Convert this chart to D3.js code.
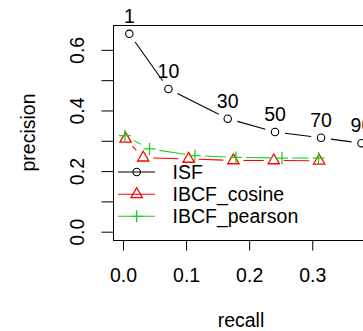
<!DOCTYPE html>
<html>
<head>
<meta charset="utf-8">
<script src="https://cdn.jsdelivr.net/npm/d3@7"></script>
<style>
  body { margin: 0; background: #fff; }
  text { font-family: "Liberation Sans", Arial, sans-serif; fill: #000; }
</style>
</head>
<body>
<div id="chart"></div>
<script>
// values
var seriesNames = ["ISF", "IBCF_cosine", "IBCF_pearson"];
var seriesColors = ["#000000", "#ff0000", "#22cc22"];
var seriesShapes = ["circle", "triangle", "plus"];

var isfRecall = [0.010, 0.072, 0.166, 0.241, 0.314, 0.378];
var isfPrecision = [0.653, 0.471, 0.373, 0.329, 0.310, 0.292];
var isfLabels = ["1", "10", "30", "50", "70", "90"];

var cosineRecall = [0.004, 0.032, 0.104, 0.175, 0.239, 0.311];
var cosinePrecision = [0.306, 0.244, 0.240, 0.235, 0.235, 0.234];

var pearsonRecall = [0.003, 0.042, 0.114, 0.179, 0.252, 0.310];
var pearsonPrecision = [0.317, 0.273, 0.251, 0.245, 0.243, 0.243];

var xTicks = [0, 0.1, 0.2, 0.3];
var yTicks = [0, 0.1, 0.2, 0.3, 0.4, 0.5, 0.6];
var yLabelTicks = [0, 0.2, 0.4, 0.6];

var W = 363, H = 331;
var box = { left: 113, top: 25, right: 369, bottom: 240 };
var fontSize = "19.5px";

var svg = d3.select("#chart").append("svg")
    .attr("width", W)
    .attr("height", H);

var x = d3.scaleLinear().domain([-0.0159, 0.39]).range([box.left, box.right]);
var y = d3.scaleLinear().domain([-0.0274, 0.682]).range([box.bottom, box.top]);

// plot box
svg.append("rect")
    .attr("x", box.left + 0.5)
    .attr("y", box.top + 0.5)
    .attr("width", box.right - box.left)
    .attr("height", box.bottom - box.top)
    .attr("fill", "none")
    .attr("stroke", "#000")
    .attr("stroke-width", 1);

// x axis
var xAxis = svg.append("g")
    .attr("transform", "translate(0," + (box.bottom + 0.5) + ")")
    .call(d3.axisBottom(x).tickValues(xTicks).tickSize(10).tickFormat(d3.format(".1f")));
xAxis.select(".domain").remove();
xAxis.selectAll("line").attr("stroke", "#000");
xAxis.selectAll("text")
    .attr("y", 41.5)
    .attr("dy", null)
    .attr("font-size", fontSize)
    .attr("fill", "#000")
    .attr("font-family", "Liberation Sans, Arial, sans-serif");

// y axis
var yAxis = svg.append("g")
    .attr("transform", "translate(" + (box.left + 0.5) + ",0)")
    .call(d3.axisLeft(y).tickValues(yTicks).tickSize(12)
        .tickFormat(function(d){ return yLabelTicks.some(function(v){ return Math.abs(v - d) < 1e-9; }) ? d3.format(".1f")(d) : ""; }));
yAxis.select(".domain").remove();
yAxis.selectAll("line").attr("stroke", "#000");
yAxis.selectAll("text")
    .attr("x", null)
    .attr("dy", null)
    .attr("text-anchor", "middle")
    .attr("transform", "translate(-30,0) rotate(-90)")
    .attr("font-size", fontSize)
    .attr("fill", "#000")
    .attr("font-family", "Liberation Sans, Arial, sans-serif");

// axis titles
svg.append("text")
    .attr("x", (box.left + box.right) / 2)
    .attr("y", 326.5)
    .attr("text-anchor", "middle")
    .attr("font-size", fontSize)
    .text("recall");

svg.append("text")
    .attr("transform", "translate(35," + ((box.top + box.bottom) / 2) + ") rotate(-90)")
    .attr("text-anchor", "middle")
    .attr("font-size", fontSize)
    .text("precision");

// symbols, R style
var base = 4.2;
function drawSymbol(g, shape, cx, cy, color) {
    if (shape == "circle") {
        g.append("circle")
            .attr("cx", cx).attr("cy", cy).attr("r", 3.7)
            .attr("fill", "none").attr("stroke", color).attr("stroke-width", 1.1);
    } else if (shape == "triangle") {
        var r = 1.555 * base, yc = 0.778 * base, xc = 1.347 * base;
        g.append("path")
            .attr("d", "M" + cx + "," + (cy - r) + "L" + (cx + xc) + "," + (cy + yc) + "L" + (cx - xc) + "," + (cy + yc) + "Z")
            .attr("fill", "none").attr("stroke", color).attr("stroke-width", 1.3);
    } else {
        var p = 1.414 * base;
        g.append("path")
            .attr("d", "M" + (cx - p) + "," + cy + "H" + (cx + p) + "M" + cx + "," + (cy - p) + "V" + (cy + p))
            .attr("fill", "none").attr("stroke", color).attr("stroke-width", 1.3);
    }
}

// type "b": lines broken around each point
var gap = 10;
function drawSeries(xs, ys, color, shape) {
    var g = svg.append("g");
    for (var i = 0; i < xs.length - 1; i++) {
        var x0 = x(xs[i]), y0 = y(ys[i]), x1 = x(xs[i + 1]), y1 = y(ys[i + 1]);
        var dx = x1 - x0, dy = y1 - y0, len = Math.sqrt(dx * dx + dy * dy);
        if (len > 2 * gap) {
            var f = gap / len;
            g.append("line")
                .attr("x1", x0 + f * dx).attr("y1", y0 + f * dy)
                .attr("x2", x1 - f * dx).attr("y2", y1 - f * dy)
                .attr("stroke", color).attr("stroke-width", 1.1);
        }
    }
    xs.forEach(function(d, i){ drawSymbol(g, shape, x(d), y(ys[i]), color); });
}

drawSeries(isfRecall, isfPrecision, seriesColors[0], seriesShapes[0]);
drawSeries(cosineRecall, cosinePrecision, seriesColors[1], seriesShapes[1]);
drawSeries(pearsonRecall, pearsonPrecision, seriesColors[2], seriesShapes[2]);

// labels above ISF points
svg.selectAll(".isf-label")
    .data(isfLabels)
    .enter().append("text")
    .attr("class", "isf-label")
    .attr("x", function(d, i){ return x(isfRecall[i]); })
    .attr("y", function(d, i){ return y(isfPrecision[i]) - 11; })
    .attr("text-anchor", "middle")
    .attr("font-size", fontSize)
    .text(function(d){ return d; });

// legend (no box)
var legendY = [172, 194.3, 216.3];
seriesNames.forEach(function(name, i){
    var row = svg.append("g");
    row.append("line")
        .attr("x1", 118).attr("x2", 155)
        .attr("y1", legendY[i]).attr("y2", legendY[i])
        .attr("stroke", seriesColors[i]).attr("stroke-width", 1.1);
    drawSymbol(row, seriesShapes[i], 136.7, legendY[i], seriesColors[i]);
    row.append("text")
        .attr("x", 172.5)
        .attr("y", legendY[i] + 7)
        .attr("font-size", fontSize)
        .text(name);
});
</script>
</body>
</html>
